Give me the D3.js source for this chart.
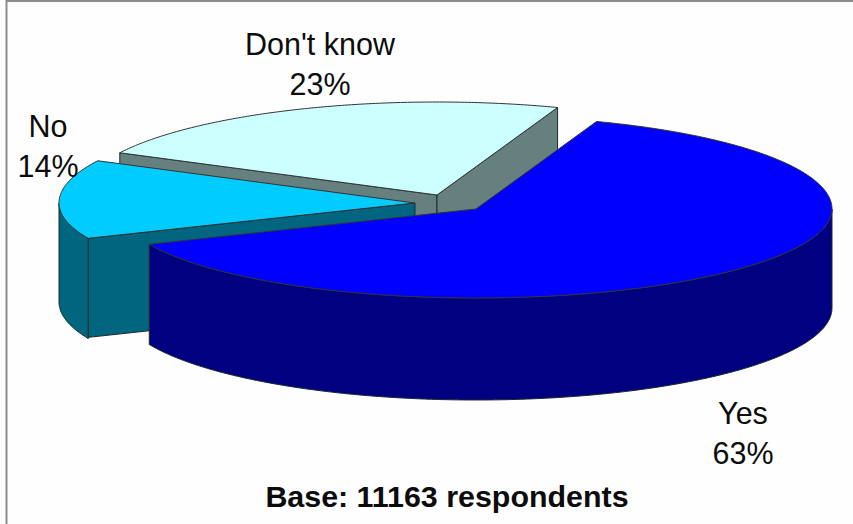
<!DOCTYPE html>
<html><head><meta charset="utf-8">
<script src="https://cdn.jsdelivr.net/npm/d3@7"></script>
<style>html,body{margin:0;padding:0;background:#fff}svg{display:block}text{font-family:"Liberation Sans",Arial,sans-serif;fill:#0c0c0c}</style>
</head><body><div id="c"></div>
<script>
const categories = ["Yes","No","Don't know"];
const shares = [63,14,23];
const percentLabels = ["63%","14%","23%"];
const topColors = ["#0000ff","#00ccff","#ccffff"];
const sideColors = ["#000080","#006680","#668080"];
const baseNote = "Base: 11163 respondents";

const W=853,H=524,rx=356,ryFront=89,ryBack=93,ryFloor=92,depth=99;
const svg=d3.select("#c").append("svg").attr("width",W).attr("height",H);
svg.append("rect").attr("width",W).attr("height",H).attr("fill","#fefefe");
svg.append("path").attr("d","M6.5,524V1H853").attr("fill","none").attr("stroke","#8c8c8c").attr("stroke-width",2);

const start=19.8*Math.PI/180;
const pie=d3.pie().sort(null).startAngle(start).endAngle(start+2*Math.PI);
const arcs=pie(shares);
const apexes=[[476,209],[415,203],[437,195]];
const labelPos=[[743,424],[48,137],[320,55]];

function pt(c,a,d=0){const k=Math.cos(a);return [c[0]+rx*Math.sin(a), c[1]-(k>0?ryBack:(d?ryFloor:ryFront))*k+d];}
function range(a0,a1){const n=Math.max(2,Math.ceil((a1-a0)/0.01));return d3.range(n+1).map(i=>a0+(a1-a0)*i/n);}
const line=d3.line().x(p=>p[0]).y(p=>p[1]);
const close=pts=>line(pts)+"Z";
function side(d,col){
  svg.append("path").attr("d",d).attr("fill",col).attr("stroke","#1a2a2a").attr("stroke-width",1).attr("stroke-linejoin","round");
}
// back to front: Don't know, No, Yes
[2,1,0].forEach(i=>{
  const a=arcs[i],c=apexes[i],a0=a.startAngle,a1=a.endAngle;
  const face=(p)=>close([c,p,[p[0],p[1]+depth],[c[0],c[1]+depth]]);
  // only cut faces turned towards the viewer
  if(Math.sin(a0)<0) side(face(pt(c,a0)),sideColors[i]);
  if(Math.sin(a1)>0) side(face(pt(c,a1)),sideColors[i]);
  const lo=Math.max(a0,Math.PI/2),hi=Math.min(a1,3*Math.PI/2);
  if(hi>lo){
    const t=range(lo,hi).map(x=>pt(c,x));
    const b=range(lo,hi).reverse().map(x=>pt(c,x,depth));
    side(close(t.concat(b)),sideColors[i]);
  }
  const top=[c].concat(range(a0,a1).map(x=>pt(c,x)));
  svg.append("path").attr("d",close(top)).attr("fill",topColors[i]).attr("stroke","#333").attr("stroke-width",1).attr("stroke-linejoin","round");
  const tx=svg.append("text").attr("text-anchor","middle").attr("font-size",30.5);
  tx.append("tspan").attr("x",labelPos[i][0]).attr("y",labelPos[i][1]).text(categories[i]);
  tx.append("tspan").attr("x",labelPos[i][0]).attr("y",labelPos[i][1]+40).text(percentLabels[i]);
});
svg.append("text").attr("x",447).attr("y",507).attr("text-anchor","middle").attr("font-size",30.4).attr("font-weight","bold").text(baseNote);
</script></body></html>
